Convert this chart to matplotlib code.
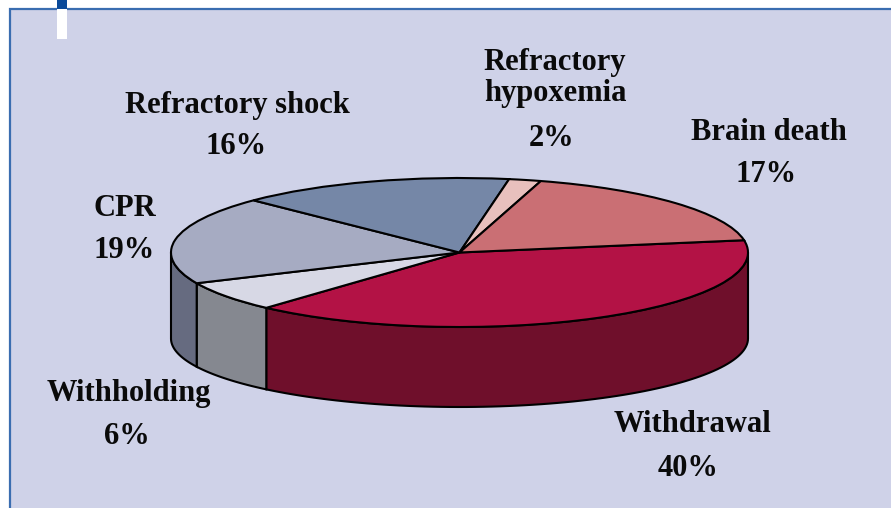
import numpy as np
import matplotlib
matplotlib.use("Agg")
import matplotlib.pyplot as plt
from matplotlib.patches import Rectangle

plt.rcParams['font.family'] = ['Liberation Serif', 'DejaVu Serif']

# slices clockwise from the Brain death / Withdrawal edge
names = ["Withdrawal", "Withholding", "CPR", "Refractory shock", "Refractory\nhypoxemia", "Brain death"]
percent_labels = ["40%", "6%", "19%", "16%", "2%", "17%"]
# share of the ellipse each slice takes in the drawing (perspective shifts them from the printed %)
shares = [39.3, 6.55, 19.1, 15.4, 1.8, 17.8]
top_colors = ["#B31245", "#D7D8E5", "#A6ABC2", "#7587A7", "#E8C0BD", "#CA6F74"]
side_colors = ["#6F0F2B", "#858890", "#666B80", "#55607A", "#A08A88", "#8A4A4E"]

W, H = 891, 508
start_angle = 9.5
fig = plt.figure(figsize=(W / 100, H / 100), dpi=100, facecolor="white")

# background panel, in pixels
bg = fig.add_axes([0, 0, 1, 1])
bg.set_xlim(0, W)
bg.set_ylim(H, 0)
bg.axis("off")
bg.add_patch(Rectangle((10, 9), W, H, facecolor="#CFD2E8", edgecolor="#3A6DB0", lw=1.6))
bg.add_patch(Rectangle((57, 0), 10, 9, facecolor="#0A4A9A", edgecolor="none"))
bg.add_patch(Rectangle((57, 9), 10, 30, facecolor="white", edgecolor="none", zorder=3))

# pie axes: -1..1 spans the top ellipse, the rest of the box is room for the wall
x0, x1, y_top, y_mid, ry = 171, 748, 178, 252.5, 74.5
y_low = 412
ax = fig.add_axes([x0 / W, 1 - y_low / H, (x1 - x0) / W, (y_low - y_top) / H])
wedges, _ = ax.pie(shares, colors=top_colors, startangle=start_angle, counterclock=False,
                   radius=1, wedgeprops=dict(edgecolor="black", linewidth=1.5, clip_on=False))
ax.set_aspect("auto")
ax.set_xlim(-1, 1)
ax.set_ylim(1 - (y_low - y_top) / ry, 1)

# side wall: lower ellipse is flatter than the top one
low_mid = -86 / ry
low_ry = 68.5 / ry
edges = start_angle - np.cumsum([0] + shares) * 360 / sum(shares)
for i in range(len(shares)):
    t0, t1 = max(edges[i + 1], -180), min(edges[i], 0)
    if t1 <= t0:
        continue
    t = np.radians(np.linspace(t1, t0, 80))
    xs = np.concatenate([np.cos(t), np.cos(t[::-1])])
    ys = np.concatenate([np.sin(t), low_mid + low_ry * np.sin(t[::-1])])
    ax.fill(xs, ys, facecolor=side_colors[i], edgecolor="black", linewidth=1.5,
            zorder=0, clip_on=False)
for w in wedges:
    w.set_zorder(2)

# labels
label_pos = [(692, 425, 688, 468), (129, 394, 127, 436), (125, 208, 124, 250),
             (237, 105, 236, 147), (555, 78, 552, 138), (769, 133, 766, 175)]
for name, pct, (nx, ny, px, py) in zip(names, percent_labels, label_pos):
    bg.text(nx, ny, name, ha="center", va="center", fontsize=22, fontweight="bold",
            color="#0A0A0A", linespacing=1.05)
    bg.text(px, py, pct, ha="center", va="center", fontsize=22, fontweight="bold", color="#0A0A0A")

fig.savefig("out.png", dpi=100)
